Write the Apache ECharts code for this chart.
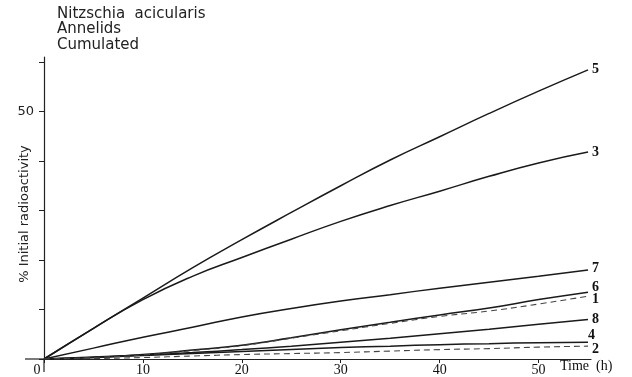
<!DOCTYPE html>
<html>
<head>
<meta charset="utf-8">
<script src="https://cdn.jsdelivr.net/npm/echarts@6/dist/echarts.min.js"></script>
<style>
  html, body { margin: 0; padding: 0; background: #fff; }
  #chart { width: 632px; height: 377px; }
</style>
</head>
<body>
<div id="chart"></div>
<script>
// time (h)
const hours = [0, 5, 10, 15, 20, 25, 30, 35, 40, 45, 50, 55]
// % initial radioactivity
const curve5 = [0, 6.2, 12.3, 18.4, 24.1, 29.6, 35.0, 40.2, 44.9, 49.6, 54.1, 58.4]
const curve3 = [0, 6.2, 12.0, 16.7, 20.5, 24.2, 27.8, 31.0, 33.9, 36.9, 39.6, 41.8]
const curve7 = [0, 2.2, 4.4, 6.4, 8.5, 10.2, 11.7, 13.0, 14.3, 15.5, 16.7, 18.0]
const curve6 = [0, 0.3, 0.9, 1.8, 2.8, 4.3, 5.9, 7.4, 8.9, 10.3, 12.0, 13.5]
const curve1 = [0, 0.3, 0.8, 1.7, 2.7, 4.2, 5.7, 7.2, 8.6, 9.7, 11.1, 12.7]
const curve8 = [0, 0.4, 0.8, 1.3, 1.9, 2.6, 3.4, 4.2, 5.1, 6.0, 7.0, 8.0]
const curve4 = [0, 0.3, 0.7, 1.1, 1.5, 1.9, 2.3, 2.6, 2.9, 3.1, 3.3, 3.4]
const curve2 = [0, 0.1, 0.3, 0.6, 0.9, 1.1, 1.3, 1.6, 1.9, 2.1, 2.4, 2.6]
const xTicks = [0, 10, 20, 30, 40, 50]
const yTicks = [0, 10, 20, 30, 40, 50, 60]
const yLabels = [50]

const curves = [
    { name: '5', data: curve5, dashed: false, offset: [0, 0] },
    { name: '3', data: curve3, dashed: false, offset: [0, 0] },
    { name: '7', data: curve7, dashed: false, offset: [0, -1] },
    { name: '6', data: curve6, dashed: false, offset: [0, -5] },
    { name: '1', data: curve1, dashed: true, offset: [0, 3] },
    { name: '8', data: curve8, dashed: false, offset: [0, 0] },
    { name: '4', data: curve4, dashed: false, offset: [-4, -7] },
    { name: '2', data: curve2, dashed: true, offset: [0, 3] }
]

let myChart = echarts.init(document.getElementById('chart'))
let seriesData = []
for (let i = 0; i < curves.length; i++) {
    let c = curves[i]
    seriesData.push({
        name: c.name,
        type: 'line',
        smooth: true,
        symbol: 'none',
        data: hours.map((h, j) => [h, c.data[j]]),
        lineStyle: {
            color: c.dashed ? '#444' : '#1a1a1a',
            width: c.dashed ? 1.1 : 1.5,
            type: c.dashed ? [6, 4] : 'solid'
        },
        endLabel: {
            show: true,
            formatter: c.name,
            distance: 4,
            offset: c.offset,
            color: '#111',
            fontFamily: 'Liberation Serif',
            fontWeight: 'bold',
            fontSize: 14
        },
        z: c.dashed ? 3 : 2
    })
}

let option = {
    animation: false,
    title: {
        text: 'Nitzschia  acicularis\nAnnelids\nCumulated',
        left: 52,
        top: 1,
        textStyle: {
            fontFamily: 'DejaVu Sans',
            fontWeight: 'normal',
            fontSize: 15,
            lineHeight: 15.5,
            color: '#222'
        }
    },
    grid: {
        left: 44,
        right: 41,
        top: 57,
        bottom: 18,
        containLabel: false,
        outerBoundsMode: 'none'
    },
    xAxis: {
        type: 'value',
        min: 0,
        max: 55.3,
        splitLine: { show: false },
        axisLine: { lineStyle: { color: '#222', width: 1.2 } },
        axisTick: { customValues: xTicks, length: 4, lineStyle: { color: '#222' } },
        axisLabel: {
            customValues: xTicks,
            margin: 4,
            color: '#111',
            fontFamily: 'Liberation Serif',
            fontSize: 14,
            formatter: v => v === 0 ? '{z|0}' : String(v),
            rich: { z: { padding: [0, 14, 0, 0], fontFamily: 'Liberation Serif', fontSize: 14, color: '#111' } }
        }
    },
    yAxis: {
        type: 'value',
        min: 0,
        max: 61,
        splitLine: { show: false },
        axisLine: { lineStyle: { color: '#222', width: 1.2 } },
        axisTick: { customValues: yTicks, length: 5, lineStyle: { color: '#222' } },
        axisLabel: {
            customValues: yLabels,
            margin: 10,
            color: '#222',
            fontFamily: 'DejaVu Sans',
            fontSize: 13
        }
    },
    graphic: [{
        type: 'text',
        x: 25,
        y: 214,
        rotation: Math.PI / 2,
        style: {
            text: '% Initial radioactivity',
            fill: '#222',
            font: '13px "DejaVu Sans"',
            align: 'center',
            verticalAlign: 'middle'
        }
    }, {
        type: 'text',
        left: 560,
        top: 359,
        style: {
            text: 'Time  (h)',
            fill: '#111',
            font: '14px "Liberation Serif"'
        }
    }, {
        // axis lines run a little past the origin in the original
        type: 'line',
        shape: { x1: 25, y1: 359, x2: 44, y2: 359 },
        style: { stroke: '#222', lineWidth: 1.2 }
    }, {
        type: 'line',
        shape: { x1: 44, y1: 359, x2: 44, y2: 372 },
        style: { stroke: '#222', lineWidth: 1.2 }
    }],
    series: seriesData
}
myChart.setOption(option)
window.addEventListener('resize', function() {
    myChart.resize()
})
</script>
</body>
</html>
